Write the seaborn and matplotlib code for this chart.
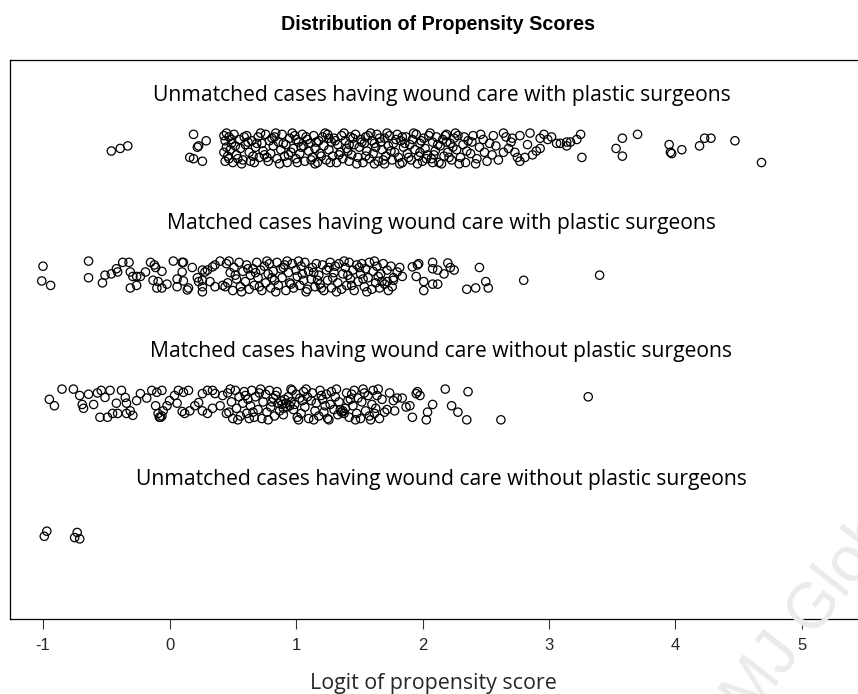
import matplotlib
matplotlib.use("Agg")
import matplotlib.pyplot as plt
import seaborn as sns
import pandas as pd

# ---------------- data (logit score, vertical jitter in row units) ----------------
groups = [
    "Unmatched cases having wound care with plastic surgeons",
    "Matched cases having wound care with plastic surgeons",
    "Matched cases having wound care without plastic surgeons",
    "Unmatched cases having wound care without plastic surgeons",
]
row_pos = [4, 3, 2, 1]

unmatched_treated = [
    (-0.46, -0.02), (-0.39, 0.00), (-0.33, 0.02),
    (0.19, 0.11), (0.23, 0.02), (0.29, 0.06), (0.22, 0.01), (0.16, -0.07), (0.19, -0.08), (0.26, -0.10),
    (0.43, 0.10), (0.43, -0.03), (0.44, 0.06), (0.44, -0.10), (0.45, 0.01), (0.46, -0.06), (0.47, 0.09), (0.48, -0.01), (0.49, 0.04), (0.50, -0.11),
    (0.51, 0.11), (0.53, -0.05), (0.55, 0.07), (0.56, 0.00), (0.58, -0.09), (0.60, 0.03), (0.61, 0.10), (0.63, -0.03), (0.65, 0.06), (0.67, -0.11),
    (0.68, 0.01), (0.70, 0.09), (0.71, -0.07), (0.73, 0.04), (0.74, -0.02), (0.76, 0.11), (0.78, -0.10), (0.79, 0.06), (0.80, -0.04), (0.82, 0.02),
    (0.83, 0.09), (0.85, -0.08), (0.86, 0.05), (0.88, -0.01), (0.89, 0.11), (0.91, -0.06), (0.92, 0.03), (0.93, -0.11), (0.95, 0.08), (0.96, -0.03),
    (0.98, 0.00), (0.99, 0.10), (1.00, -0.08), (1.02, 0.05), (1.03, -0.04), (1.05, 0.11), (1.06, 0.02), (1.07, -0.10), (1.09, 0.07), (1.10, -0.02),
    (1.11, 0.04), (1.13, -0.07), (1.14, 0.10), (1.15, 0.00), (1.17, -0.11), (1.18, 0.06), (1.19, -0.04), (1.21, 0.09), (1.22, 0.02), (1.24, -0.09),
    (1.25, 0.11), (1.26, -0.01), (1.28, 0.05), (1.29, -0.06), (1.30, 0.08), (1.32, -0.11), (1.33, 0.03), (1.35, -0.03), (1.36, 0.10), (1.37, -0.08),
    (1.39, 0.06), (1.40, 0.00), (1.42, -0.10), (1.43, 0.09), (1.44, -0.05), (1.46, 0.03), (1.47, 0.11), (1.49, -0.07), (1.50, 0.01), (1.51, 0.07),
    (1.53, -0.11), (1.54, 0.04), (1.56, -0.02), (1.57, 0.10), (1.58, -0.08), (1.60, 0.06), (1.61, -0.04), (1.63, 0.01), (1.64, 0.11), (1.65, -0.10),
    (1.67, 0.05), (1.68, -0.01), (1.70, 0.08), (1.71, -0.06), (1.73, 0.02), (1.74, 0.10), (1.76, -0.09), (1.77, 0.04), (1.78, -0.03), (1.80, 0.11),
    (1.81, -0.07), (1.83, 0.06), (1.84, -0.11), (1.85, 0.01), (1.87, 0.09), (1.88, -0.04), (1.90, 0.03), (1.91, -0.09), (1.92, 0.07), (1.94, -0.01),
    (1.95, 0.11), (1.97, -0.06), (1.98, 0.04), (2.00, -0.10), (2.01, 0.08), (2.02, 0.00), (2.04, -0.05), (2.05, 0.10), (2.07, -0.08), (2.08, 0.05),
    (2.10, -0.02), (2.11, 0.09), (2.13, -0.11), (2.14, 0.02), (2.16, 0.07), (2.17, -0.06), (2.19, 0.11), (2.20, -0.03), (2.22, 0.04), (2.23, -0.09),
    (2.25, 0.08), (2.27, -0.01), (2.28, 0.10), (2.30, -0.07), (2.32, 0.03), (2.34, -0.11), (2.36, 0.06), (2.38, -0.04), (2.40, 0.10), (2.43, -0.08),
    (2.45, 0.01), (2.48, 0.07), (2.51, -0.10), (2.53, 0.04),
    (0.45, 0.12), (0.47, -0.08), (0.52, 0.02), (0.57, -0.12), (0.62, 0.05), (0.66, -0.06), (0.72, 0.12), (0.77, -0.07), (0.81, 0.08), (0.87, -0.12),
    (0.90, 0.04), (0.94, -0.05), (0.97, 0.12), (1.01, -0.11), (1.04, 0.01), (1.08, 0.09), (1.12, -0.09), (1.16, 0.05), (1.20, -0.06), (1.23, 0.12),
    (1.27, -0.11), (1.31, 0.06), (1.34, -0.05), (1.38, 0.12), (1.41, -0.02), (1.45, 0.08), (1.48, -0.12), (1.52, 0.05), (1.55, -0.06), (1.59, 0.12),
    (1.62, -0.12), (1.66, 0.08), (1.69, -0.09), (1.72, 0.12), (1.75, -0.02), (1.79, 0.07), (1.82, -0.12), (1.86, 0.04), (1.89, -0.07), (1.93, 0.12),
    (1.96, -0.12), (1.99, 0.06), (2.03, -0.08), (2.06, 0.12), (2.09, -0.05), (2.12, 0.03), (2.15, -0.12), (2.18, 0.10), (2.21, -0.07), (2.24, 0.01),
    (2.26, 0.12), (2.29, -0.12), (2.33, 0.09), (2.35, -0.02), (2.39, 0.05), (2.42, -0.12), (2.46, 0.11), (2.49, -0.03), (0.49, 0.07), (0.54, -0.08),
    (0.59, 0.09), (0.64, -0.10), (0.69, 0.04), (0.75, -0.05), (0.84, 0.12), (1.00, 0.07), (1.15, -0.12), (1.26, 0.08), (1.42, 0.03), (1.55, 0.09),
    (1.62, 0.04), (1.70, -0.12), (1.84, 0.09), (1.98, -0.03), (2.08, -0.11), (2.19, 0.05),
    (2.56, 0.10), (2.64, 0.12), (2.71, 0.08), (2.77, 0.10), (2.85, 0.12), (2.93, 0.08), (2.99, 0.07), (3.06, 0.04), (3.14, 0.05), (2.55, -0.05),
    (2.64, -0.03), (2.68, 0.00), (2.75, -0.07), (2.81, -0.07), (2.87, -0.05), (2.93, 0.00), (2.73, -0.03), (2.77, -0.10), (2.60, -0.09), (2.70, 0.05),
    (2.83, 0.03), (2.90, -0.02), (2.96, 0.11), (3.02, 0.09), (2.58, 0.02), (2.66, 0.09),
    (3.09, 0.04), (3.14, 0.02), (3.17, 0.05), (3.22, 0.07), (3.25, 0.11), (3.26, -0.07), (3.58, 0.08), (3.53, 0.00), (3.58, -0.06), (3.70, 0.11),
    (3.95, 0.03), (3.96, -0.03), (3.97, -0.04), (4.05, -0.01), (4.19, 0.02), (4.23, 0.08), (4.28, 0.08), (4.47, 0.06), (4.68, -0.11),
]

matched_treated = [
    (-1.00, 0.08), (-1.01, -0.035), (-0.94, -0.07),
    (-0.64, 0.12), (-0.64, -0.01), (-0.53, -0.05), (-0.51, 0.01), (-0.46, 0.02), (-0.42, 0.06), (-0.41, 0.035), (-0.37, 0.11), (-0.32, 0.11),
    (-0.31, -0.09), (-0.26, -0.07),
    (-0.31, 0.035), (-0.29, 0.00), (-0.26, 0.00), (-0.23, 0.00), (-0.19, 0.035), (-0.15, 0.11), (-0.12, 0.09), (-0.11, 0.07), (-0.06, 0.04),
    (-0.13, -0.03), (-0.09, -0.04), (-0.06, -0.09), (-0.10, -0.09), (-0.02, -0.06), (0.03, 0.12), (0.10, 0.11), (0.11, 0.11), (0.18, 0.07),
    (0.10, 0.035), (0.06, -0.02), (0.11, -0.035), (0.06, -0.08), (0.15, -0.09), (0.14, -0.105), (0.22, -0.01), (0.26, 0.05), (0.28, 0.035),
    (0.30, 0.05), (0.34, 0.075), (0.36, 0.09), (0.40, 0.12), (0.26, -0.08), (0.26, -0.12), (0.32, -0.04), (0.36, -0.08), (0.42, -0.07),
    (0.44, -0.08), (0.23, -0.04), (0.26, -0.03),
    (0.45, 0.10), (0.46, -0.05), (0.48, 0.03), (0.50, -0.11), (0.51, 0.07), (0.53, -0.02), (0.55, 0.11), (0.56, -0.08), (0.58, 0.04), (0.60, -0.04),
    (0.61, 0.09), (0.63, -0.10), (0.64, 0.01), (0.66, 0.06), (0.67, -0.07), (0.69, 0.11), (0.70, -0.01), (0.72, 0.05), (0.73, -0.11), (0.75, 0.08),
    (0.76, -0.05), (0.78, 0.02), (0.79, 0.10), (0.80, -0.09), (0.82, 0.04), (0.83, -0.03), (0.85, 0.11), (0.86, -0.07), (0.88, 0.06), (0.89, -0.01),
    (0.91, 0.09), (0.92, -0.11), (0.94, 0.03), (0.95, -0.05), (0.97, 0.10), (0.98, -0.09), (1.00, 0.05), (1.01, 0.00), (1.03, -0.07), (1.04, 0.08),
    (1.06, -0.03), (1.07, 0.11), (1.09, -0.10), (1.10, 0.04), (1.12, -0.02), (1.13, 0.07), (1.15, -0.08), (1.16, 0.10), (1.18, 0.01), (1.19, -0.06),
    (1.21, 0.09), (1.22, -0.11), (1.24, 0.05), (1.25, -0.03), (1.27, 0.11), (1.28, -0.09), (1.30, 0.03), (1.31, 0.08), (1.33, -0.05), (1.34, 0.10),
    (1.36, -0.10), (1.37, 0.02), (1.39, 0.07), (1.40, -0.07), (1.42, 0.11), (1.43, -0.02), (1.45, 0.05), (1.46, -0.11), (1.48, 0.09), (1.49, -0.04),
    (1.51, 0.02), (1.52, 0.10), (1.54, -0.08), (1.55, 0.06), (1.57, -0.01), (1.58, 0.11), (1.60, -0.10), (1.61, 0.04), (1.63, -0.05), (1.64, 0.08),
    (1.66, -0.09), (1.67, 0.02), (1.69, 0.10), (1.70, -0.06), (1.72, 0.05), (1.73, -0.11), (1.75, 0.08), (1.77, -0.03),
    (0.47, 0.12), (0.57, -0.12), (0.62, 0.06), (0.71, -0.08), (0.77, 0.12), (0.84, -0.12), (0.90, 0.07), (0.96, -0.06), (1.02, 0.12), (1.08, -0.12),
    (1.14, 0.03), (1.20, -0.09), (1.26, 0.07), (1.32, -0.12), (1.38, 0.12), (1.44, -0.07), (1.50, 0.07), (1.56, -0.12), (1.62, 0.12), (1.68, -0.04),
    (0.52, 0.01), (0.68, 0.03), (0.81, -0.01), (0.93, 0.12), (1.05, 0.02), (1.17, -0.03), (1.29, -0.01), (1.41, 0.01), (1.53, -0.02), (1.65, 0.00),
    (1.80, 0.035), (1.82, 0.07), (1.84, 0.00), (1.92, 0.075), (1.96, 0.09), (1.77, -0.01), (1.97, 0.10), (2.08, 0.11), (2.08, 0.06), (2.12, 0.05),
    (2.20, 0.105), (2.22, 0.07), (2.25, 0.05), (2.17, 0.02), (1.95, 0.00), (2.01, -0.04), (2.01, -0.11), (2.08, -0.06), (2.12, -0.06), (2.45, 0.07),
    (2.35, -0.10), (2.42, -0.09), (2.50, -0.04), (2.52, -0.09), (2.80, -0.03), (3.40, 0.01), (1.76, -0.08), (1.72, -0.04),
]

matched_control = [
    (-0.95, 0.04), (-0.91, -0.01), (-0.85, 0.12), (-0.76, 0.12), (-0.71, 0.07), (-0.69, 0.00), (-0.68, -0.03), (-0.64, 0.08), (-0.60, 0.00),
    (-0.57, 0.09), (-0.54, 0.11), (-0.51, 0.055), (-0.47, 0.11), (-0.55, -0.10), (-0.49, -0.10), (-0.45, -0.07), (-0.42, 0.01), (-0.41, -0.07),
    (-0.38, 0.11), (-0.35, 0.055), (-0.34, 0.01), (-0.31, -0.05), (-0.29, -0.085), (-0.34, -0.07), (-0.26, 0.03), (-0.23, 0.085), (-0.18, 0.05),
    (-0.14, 0.11), (-0.10, 0.095), (-0.06, 0.11), (-0.11, -0.01), (-0.09, -0.07), (-0.07, -0.10), (-0.05, -0.05), (-0.02, -0.01), (0.00, 0.03),
    (0.04, 0.07), (0.07, 0.11), (0.11, 0.095), (0.15, 0.11), (0.06, 0.01), (0.10, -0.055), (0.12, -0.07), (0.16, -0.05), (0.20, -0.01),
    (0.23, 0.015), (0.26, 0.085), (0.30, 0.11), (0.34, 0.11), (0.36, 0.085), (0.26, -0.05), (0.30, -0.07), (0.34, -0.03), (0.40, -0.01),
    (0.42, 0.07), (0.45, -0.07), (-0.08, -0.10), (-0.06, -0.09),
    (0.46, 0.09), (0.47, -0.06), (0.49, 0.02), (0.50, -0.11), (0.52, 0.11), (0.53, -0.03), (0.55, 0.06), (0.56, -0.09), (0.58, 0.01), (0.59, 0.10),
    (0.61, -0.07), (0.62, 0.04), (0.64, -0.01), (0.65, 0.11), (0.67, -0.10), (0.68, 0.06), (0.70, -0.04), (0.71, 0.09), (0.73, -0.11), (0.74, 0.02),
    (0.76, 0.08), (0.77, -0.06), (0.79, 0.11), (0.80, -0.02), (0.82, 0.05), (0.83, -0.09), (0.85, 0.10), (0.86, 0.01), (0.87, -0.05), (0.88, 0.03),
    (0.89, 0.00), (0.90, -0.03), (0.91, 0.04), (0.92, 0.01), (0.93, -0.02), (0.94, 0.06), (0.95, -0.01), (0.96, 0.02), (0.97, 0.11), (0.98, -0.04),
    (0.99, 0.00), (1.00, 0.08), (1.01, -0.10), (1.03, 0.05), (1.04, -0.07), (1.06, 0.10), (1.07, -0.02), (1.09, 0.06), (1.10, -0.11), (1.12, 0.03),
    (1.13, 0.09), (1.15, -0.05), (1.16, 0.01), (1.18, -0.09), (1.19, 0.11), (1.21, 0.04), (1.22, -0.06), (1.24, 0.08), (1.25, -0.11), (1.27, 0.00),
    (1.28, 0.10), (1.30, -0.04), (1.31, 0.06), (1.33, -0.08), (1.34, 0.02), (1.35, -0.04), (1.36, -0.06), (1.37, -0.05), (1.38, -0.07), (1.39, -0.03),
    (1.40, 0.09), (1.42, -0.10), (1.43, 0.04), (1.45, -0.01), (1.46, 0.11), (1.48, -0.07), (1.49, 0.05), (1.51, -0.11), (1.52, 0.02), (1.54, 0.09),
    (1.55, -0.05), (1.57, 0.07), (1.58, -0.09), (1.60, 0.00), (1.61, 0.11), (1.63, -0.03), (1.64, 0.07), (1.66, -0.11), (1.68, 0.04), (1.70, -0.06),
    (1.72, -0.04), (1.74, 0.09), (1.77, 0.03), (1.78, -0.05), (1.80, 0.05), (1.84, 0.05), (1.87, -0.02),
    (0.48, 0.12), (0.54, -0.12), (0.60, 0.07), (0.66, -0.06), (0.72, 0.12), (0.78, -0.12), (0.84, 0.07), (0.90, -0.08), (0.96, 0.12), (1.02, -0.12),
    (1.08, 0.12), (1.14, -0.12), (1.20, 0.07), (1.26, -0.12), (1.32, 0.12), (1.41, 0.03), (1.47, -0.12), (1.53, 0.12), (1.59, -0.12), (1.65, 0.12),
    (0.63, -0.11), (0.81, 0.02), (1.05, 0.03), (1.23, -0.01), (1.44, 0.08), (1.62, -0.07),
    (1.95, 0.085), (1.98, 0.07), (2.18, 0.12), (2.36, 0.10), (2.08, 0.00), (2.04, -0.06), (2.03, -0.12), (2.23, -0.01), (2.28, -0.06),
    (2.35, -0.12), (2.62, -0.12), (3.31, 0.06), (1.92, -0.10), (1.90, -0.01), (1.96, 0.10),
]

unmatched_control = [(-0.99, -0.03), (-0.97, 0.01), (-0.73, 0.00), (-0.75, -0.04), (-0.71, -0.05)]

xticks = [-1, 0, 1, 2, 3, 4, 5]
title = "Distribution of Propensity Scores"
xlabel = "Logit of propensity score"
watermark = "BMJ Global"

# ---------------- build table ----------------
rows = []
for grp, pos, pts in zip(groups, row_pos,
                         [unmatched_treated, matched_treated, matched_control, unmatched_control]):
    for x, dy in pts:
        rows.append({"group": grp, "score": x, "y": pos + dy})
df = pd.DataFrame(rows)

# ---------------- figure ----------------
sns.set_style("white")
plt.rcParams["font.family"] = ["Liberation Sans", "DejaVu Sans"]

W, H = 858, 694
fig = plt.figure(figsize=(W / 100, H / 100), dpi=100)

# faint watermark (behind everything)
fig.text(812 / W, 1 - 612 / H, watermark, ha="center", va="center", fontsize=46,
         rotation=52, color="#ebebeb", zorder=0)

ax = fig.add_axes([10 / W, 1 - 619 / H, (866 - 10) / W, (619 - 60) / H])
ax.patch.set_alpha(0)

sns.scatterplot(data=df, x="score", y="y", ax=ax, marker="o", s=36,
                facecolors="none", edgecolor="black", linewidth=0.9, legend=False)

ax.set_xlim(-1.261, 5.506)
ax.set_ylim(0.324, 4.691)
ax.set_yticks([])
ax.set_xticks(xticks)
ax.set_xticklabels([str(t) for t in xticks], fontsize=12)
ax.tick_params(axis="x", direction="out", length=7, width=0.8, color="#333333", pad=7, bottom=True)
for sp in ax.spines.values():
    sp.set_visible(True)
    sp.set_color("black")
    sp.set_linewidth(0.9)
ax.set_xlabel("")
ax.set_ylabel("")

for grp, pos in zip(groups, row_pos):
    ax.text(2.15, pos + 0.41, grp, ha="center", va="center", fontsize=15.2,
            family=["Open Sans", "DejaVu Sans"], color="black")

fig.text(438 / W, 1 - 24 / H, title, ha="center", va="center", fontsize=14.2,
         fontweight="bold", color="black")
fig.text(433 / W, 1 - 683 / H, xlabel, ha="center", va="center", fontsize=15.4,
         family=["Open Sans", "DejaVu Sans"])

fig.savefig("out.png", dpi=100)
